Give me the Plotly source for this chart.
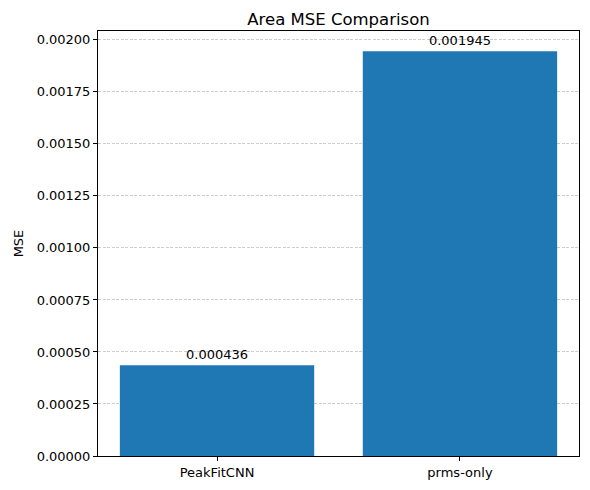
import plotly.graph_objects as go

# données du graphe
modeles = ["PeakFitCNN", "prms-only"]
mse_valeurs = [0.000436, 0.001945]
etiquettes = ["0.000436", "0.001945"]
y_ticks = [0.0, 0.00025, 0.0005, 0.00075, 0.001, 0.00125, 0.0015, 0.00175, 0.002]

POLICE = "DejaVu Sans"

fig = go.Figure()
fig.add_trace(go.Bar(
    x=[0, 1],
    y=mse_valeurs,
    width=0.8,
    marker=dict(color="#1f77b4", line=dict(width=0)),
    text=etiquettes,
    textposition="outside",
    textfont=dict(family=POLICE, size=13, color="black"),
    cliponaxis=False,
))

# la page html a une marge de 8px autour du graphe : on compense ici
fig.update_layout(
    width=582,
    height=482,
    paper_bgcolor="white",
    plot_bgcolor="white",
    margin=dict(l=89, r=10, t=23, b=34),
    showlegend=False,
    font=dict(family=POLICE, size=13, color="black"),
    title=dict(
        text="Area MSE Comparison",
        x=0.5, xanchor="center", xref="paper",
        y=1, yref="paper", yanchor="bottom", pad=dict(b=6),
        font=dict(family=POLICE, size=16.5, color="black"),
    ),
)

fig.update_xaxes(
    range=[-0.49, 1.49],
    tickvals=[0, 1],
    ticktext=modeles,
    showgrid=False,
    zeroline=False,
    showline=True, mirror=True, linecolor="black", linewidth=1,
    ticks="outside", ticklen=4, tickcolor="black",
)
fig.update_yaxes(
    title=dict(text="MSE", standoff=10, font=dict(family=POLICE, size=13, color="black")),
    range=[0, 0.0020425],
    tickvals=y_ticks,
    tickformat=".5f",
    showgrid=True, gridcolor="#cccccc", griddash="3px,1.5px", gridwidth=1,
    zeroline=False,
    showline=True, mirror=True, linecolor="black", linewidth=1,
    ticks="outside", ticklen=4, tickcolor="black",
)

fig.write_html("out.html")
